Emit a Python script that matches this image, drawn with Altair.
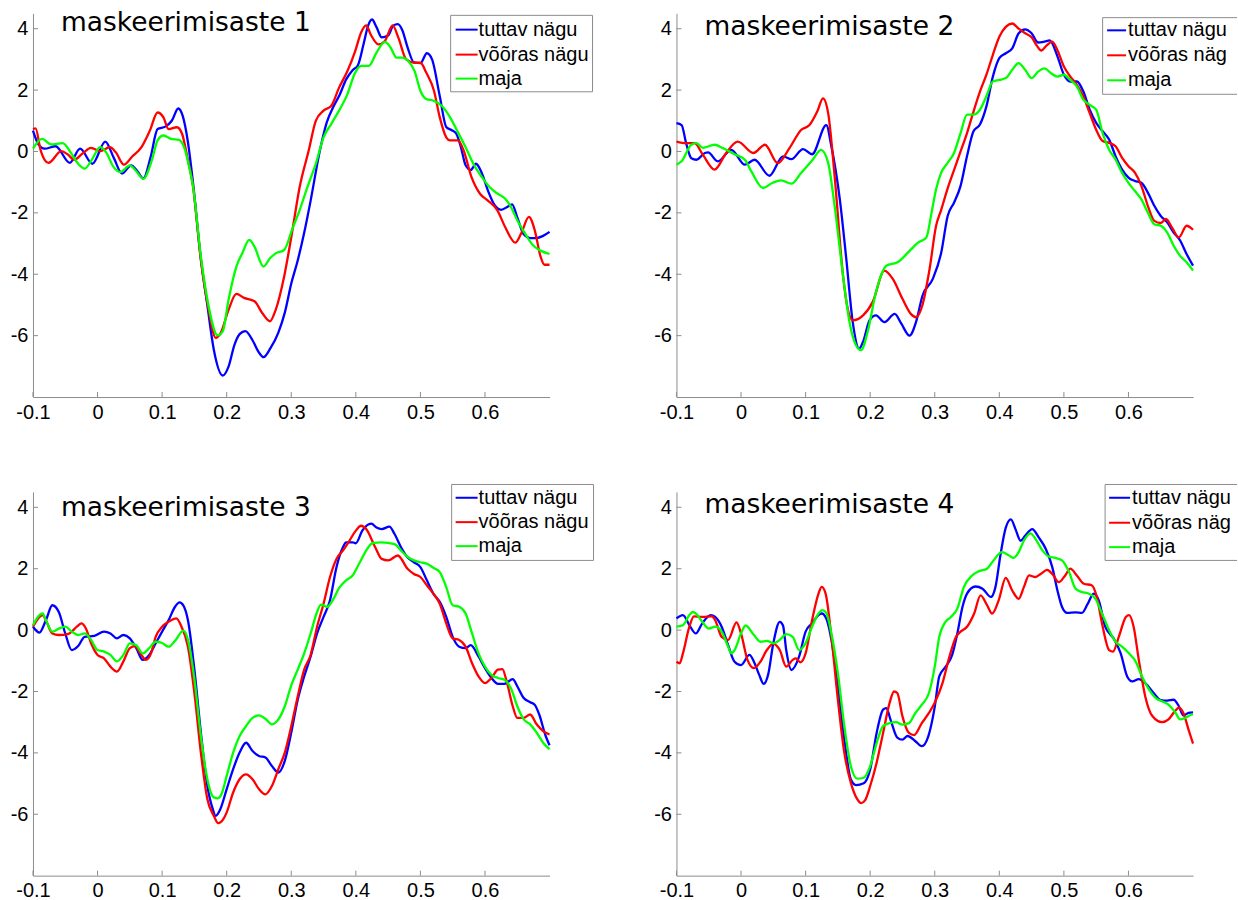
import altair as alt
import pandas as pd

# ---- axes -------------------------------------------------------------
X_DOMAIN = [-0.1, 0.7]
Y_DOMAIN = [-8, 4.5]
X_TICKS = [-0.1, 0, 0.1, 0.2, 0.3, 0.4, 0.5, 0.6]
Y_TICKS = [-6, -4, -2, 0, 2, 4]

SERIES = ["tuttav nägu", "võõras nägu", "maja"]
COLORS = ["#0000ff", "#ff0000", "#00ff00"]
TITLES = ["maskeerimisaste 1", "maskeerimisaste 2",
          "maskeerimisaste 3", "maskeerimisaste 4"]

# ---- waveforms: (time s, amplitude) ------------------------------------
P1_TUTTAV = [(-0.100, 0.68), (-0.092, 0.25), (-0.082, 0.09), (-0.065, 0.17), (-0.043, -0.37),
             (-0.027, 0.09), (-0.008, -0.40), (0.012, 0.32), (0.025, -0.20), (0.038, -0.72),
             (0.052, -0.45), (0.062, -0.65), (0.071, -0.88), (0.082, -0.20), (0.093, 0.73),
             (0.105, 0.81), (0.115, 1.00), (0.125, 1.40), (0.132, 1.15), (0.140, 0.30),
             (0.148, -1.05), (0.160, -3.50), (0.170, -5.00), (0.180, -6.45), (0.194, -7.30),
             (0.203, -7.00), (0.212, -6.30), (0.220, -5.95), (0.229, -5.85), (0.240, -6.15),
             (0.250, -6.55), (0.257, -6.70), (0.268, -6.40), (0.280, -5.90), (0.290, -5.25),
             (0.300, -4.30), (0.310, -3.55), (0.320, -2.65), (0.330, -1.60), (0.344, 0.00),
             (0.355, 0.95), (0.365, 1.45), (0.375, 1.85), (0.385, 2.35), (0.395, 2.65),
             (0.403, 2.80), (0.412, 3.50), (0.419, 4.10), (0.425, 4.30), (0.432, 4.05),
             (0.440, 3.72), (0.450, 3.78), (0.458, 4.10), (0.465, 4.15), (0.472, 3.95),
             (0.480, 3.40), (0.490, 2.90), (0.500, 2.88), (0.510, 3.20), (0.518, 3.00),
             (0.530, 1.80), (0.540, 0.80), (0.548, 0.70), (0.555, 0.60), (0.562, 0.20),
             (0.570, -0.45), (0.578, -0.60), (0.586, -0.40), (0.595, -0.70), (0.605, -1.30),
             (0.615, -1.75), (0.625, -1.90), (0.635, -1.80), (0.642, -1.72), (0.650, -2.15),
             (0.660, -2.70), (0.670, -2.82), (0.680, -2.82), (0.690, -2.75), (0.700, -2.62)]
P1_VOORAS = [(-0.100, 0.73), (-0.096, 0.75), (-0.088, 0.03), (-0.076, -0.37), (-0.056, 0.01),
             (-0.046, -0.10), (-0.036, -0.27), (-0.024, -0.08), (-0.010, 0.12), (0.004, 0.01),
             (0.019, 0.14), (0.028, -0.02), (0.041, -0.43), (0.053, -0.18), (0.068, 0.14),
             (0.081, 0.68), (0.093, 1.27), (0.102, 1.11), (0.110, 0.73), (0.123, 0.79),
             (0.131, 0.57), (0.139, -0.18), (0.148, -1.16), (0.160, -3.53), (0.172, -5.15),
             (0.183, -6.07), (0.191, -5.90), (0.203, -5.15), (0.215, -4.64), (0.227, -4.77),
             (0.243, -4.88), (0.255, -5.26), (0.267, -5.53), (0.276, -5.15), (0.289, -4.07),
             (0.301, -2.67), (0.313, -1.16), (0.327, 0.03), (0.338, 1.00), (0.350, 1.33),
             (0.362, 1.49), (0.374, 2.08), (0.387, 2.62), (0.399, 3.27), (0.408, 3.87),
             (0.416, 4.11), (0.423, 3.81), (0.435, 3.49), (0.445, 3.60), (0.457, 4.11),
             (0.466, 3.70), (0.478, 3.00), (0.491, 2.89), (0.500, 2.89), (0.509, 2.57),
             (0.521, 1.98), (0.530, 1.11), (0.540, 0.46), (0.546, 0.36), (0.558, 0.36),
             (0.567, 0.03), (0.579, -0.83), (0.592, -1.37), (0.604, -1.59), (0.619, -1.91),
             (0.631, -2.45), (0.647, -2.97), (0.656, -2.67), (0.668, -2.13), (0.677, -2.56),
             (0.686, -3.42), (0.692, -3.69), (0.700, -3.69)]
P1_MAJA = [(-0.100, 0.09), (-0.086, 0.41), (-0.072, 0.23), (-0.054, 0.27), (-0.042, -0.02),
           (-0.030, -0.40), (-0.020, -0.56), (-0.008, -0.24), (0.004, 0.14), (0.013, -0.02),
           (0.025, -0.51), (0.035, -0.67), (0.050, -0.45), (0.059, -0.62), (0.071, -0.89),
           (0.084, -0.29), (0.093, 0.36), (0.102, 0.52), (0.114, 0.41), (0.126, 0.38),
           (0.134, 0.14), (0.142, -0.51), (0.148, -1.16), (0.160, -3.42), (0.172, -5.04),
           (0.186, -5.99), (0.194, -5.85), (0.203, -4.82), (0.215, -3.75), (0.224, -3.32),
           (0.235, -2.88), (0.243, -3.10), (0.257, -3.75), (0.267, -3.48), (0.276, -3.32),
           (0.289, -3.21), (0.301, -2.56), (0.313, -1.91), (0.325, -1.16), (0.338, -0.40),
           (0.350, 0.46), (0.362, 0.90), (0.374, 1.33), (0.387, 1.87), (0.399, 2.57),
           (0.408, 2.79), (0.420, 2.79), (0.432, 3.22), (0.445, 3.57), (0.454, 3.38),
           (0.463, 3.06), (0.472, 3.06), (0.481, 2.95), (0.491, 2.62), (0.500, 1.98),
           (0.509, 1.71), (0.521, 1.65), (0.533, 1.49), (0.546, 1.11), (0.558, 0.63),
           (0.570, 0.14), (0.582, -0.40), (0.595, -0.83), (0.607, -1.16), (0.619, -1.37),
           (0.631, -1.53), (0.640, -1.80), (0.650, -2.24), (0.662, -2.67), (0.674, -3.05),
           (0.686, -3.23), (0.700, -3.34)]

P2_TUTTAV = [(-0.100, 0.92), (-0.092, 0.86), (-0.085, 0.27), (-0.077, -0.22), (-0.069, -0.27),
             (-0.056, -0.05), (-0.051, -0.03), (-0.036, -0.32), (-0.015, 0.05), (0.006, -0.43),
             (0.021, -0.27), (0.044, -0.79), (0.065, -0.16), (0.078, -0.25), (0.096, 0.08),
             (0.110, -0.09), (0.132, 0.86), (0.140, 0.16), (0.153, -1.56), (0.163, -3.50),
             (0.173, -5.56), (0.183, -6.42), (0.189, -6.20), (0.199, -5.50), (0.209, -5.34),
             (0.222, -5.56), (0.238, -5.29), (0.248, -5.60), (0.261, -6.00), (0.271, -5.56),
             (0.281, -4.70), (0.297, -4.15), (0.310, -3.30), (0.320, -2.10), (0.330, -1.66),
             (0.340, -1.12), (0.350, -0.15), (0.360, 0.66), (0.370, 0.88), (0.380, 1.47),
             (0.390, 2.44), (0.400, 3.04), (0.410, 3.20), (0.420, 3.36), (0.430, 3.85),
             (0.440, 3.98), (0.450, 3.85), (0.460, 3.55), (0.470, 3.58), (0.478, 3.62),
             (0.490, 3.10), (0.500, 2.50), (0.510, 2.28), (0.520, 2.28), (0.530, 1.96),
             (0.540, 1.36), (0.550, 0.93), (0.560, 0.66), (0.570, 0.39), (0.580, -0.15),
             (0.590, -0.58), (0.600, -0.85), (0.610, -0.96), (0.620, -1.02), (0.630, -1.34),
             (0.640, -1.77), (0.650, -2.10), (0.660, -2.31), (0.670, -2.64), (0.680, -2.90),
             (0.690, -3.34), (0.700, -3.72)]
P2_VOORAS = [(-0.100, 0.32), (-0.085, 0.27), (-0.072, 0.27), (-0.059, -0.11), (-0.041, -0.59),
             (-0.023, -0.05), (-0.005, 0.32), (0.019, -0.05), (0.037, 0.22), (0.057, -0.38),
             (0.075, 0.11), (0.093, 0.70), (0.106, 0.86), (0.118, 1.30), (0.127, 1.73),
             (0.135, 1.24), (0.145, -0.81), (0.158, -4.05), (0.165, -5.10), (0.173, -5.50),
             (0.189, -5.34), (0.204, -4.90), (0.222, -3.88), (0.235, -4.15), (0.250, -4.80),
             (0.263, -5.29), (0.271, -5.40), (0.281, -5.00), (0.292, -3.83), (0.302, -2.43),
             (0.310, -1.90), (0.320, -1.20), (0.330, -0.60), (0.340, 0.00), (0.350, 0.60),
             (0.360, 1.30), (0.370, 1.95), (0.380, 2.50), (0.390, 3.15), (0.400, 3.74),
             (0.410, 4.06), (0.420, 4.17), (0.430, 4.00), (0.440, 3.85), (0.450, 3.72),
             (0.458, 3.45), (0.465, 3.29), (0.473, 3.45), (0.482, 3.58), (0.490, 3.30),
             (0.500, 2.77), (0.510, 2.44), (0.520, 2.17), (0.530, 1.80), (0.540, 1.25),
             (0.550, 0.71), (0.560, 0.34), (0.570, 0.28), (0.580, 0.17), (0.590, -0.20),
             (0.600, -0.48), (0.610, -0.69), (0.620, -1.12), (0.630, -1.77), (0.640, -2.26),
             (0.650, -2.33), (0.658, -2.20), (0.668, -2.50), (0.678, -2.80), (0.690, -2.42),
             (0.700, -2.55)]
P2_MAJA = [(-0.100, -0.43), (-0.092, -0.32), (-0.077, 0.22), (-0.069, 0.27), (-0.059, 0.12),
           (-0.041, 0.22), (-0.028, 0.11), (-0.010, -0.09), (0.006, -0.27), (0.016, -0.65),
           (0.034, -1.19), (0.049, -1.02), (0.062, -0.94), (0.078, -1.05), (0.093, -0.70),
           (0.111, -0.27), (0.124, 0.05), (0.135, -0.38), (0.145, -1.78), (0.158, -4.05),
           (0.168, -5.56), (0.178, -6.31), (0.186, -6.47), (0.196, -5.88), (0.209, -4.58),
           (0.225, -3.72), (0.243, -3.60), (0.261, -3.24), (0.274, -2.97), (0.287, -2.80),
           (0.295, -2.00), (0.302, -1.24), (0.310, -0.69), (0.320, -0.37), (0.330, -0.04),
           (0.340, 0.60), (0.350, 1.20), (0.360, 1.20), (0.370, 1.36), (0.380, 1.80),
           (0.390, 2.28), (0.400, 2.33), (0.410, 2.39), (0.420, 2.66), (0.430, 2.88),
           (0.440, 2.66), (0.450, 2.39), (0.460, 2.60), (0.470, 2.71), (0.480, 2.55),
           (0.490, 2.44), (0.500, 2.50), (0.510, 2.33), (0.520, 2.12), (0.530, 1.69),
           (0.540, 1.52), (0.550, 1.36), (0.560, 0.60), (0.570, 0.06), (0.580, -0.26),
           (0.590, -0.69), (0.600, -1.02), (0.610, -1.29), (0.620, -1.56), (0.630, -1.99),
           (0.640, -2.37), (0.650, -2.42), (0.660, -2.64), (0.670, -3.07), (0.680, -3.40),
           (0.690, -3.61), (0.700, -3.88)]

P3_TUTTAV = [(-0.100, 0.11), (-0.090, -0.08), (-0.080, 0.32), (-0.070, 0.81), (-0.060, 0.59),
             (-0.050, -0.11), (-0.040, -0.65), (-0.030, -0.52), (-0.020, -0.22), (-0.005, -0.19),
             (0.010, -0.05), (0.020, -0.11), (0.030, -0.27), (0.040, -0.16), (0.050, -0.27),
             (0.060, -0.59), (0.070, -0.97), (0.080, -0.81), (0.090, -0.43), (0.100, -0.05),
             (0.110, 0.32), (0.120, 0.76), (0.127, 0.90), (0.133, 0.80), (0.140, 0.32),
             (0.150, -1.29), (0.160, -3.34), (0.170, -5.07), (0.178, -5.80), (0.183, -6.05),
             (0.190, -5.84), (0.200, -5.18), (0.210, -4.53), (0.220, -3.99), (0.230, -3.67),
             (0.240, -3.94), (0.250, -4.10), (0.260, -4.15), (0.270, -4.43), (0.280, -4.64),
             (0.290, -4.26), (0.300, -3.34), (0.310, -2.27), (0.320, -1.51), (0.330, -0.86),
             (0.340, -0.11), (0.350, 0.43), (0.360, 0.97), (0.370, 2.05), (0.380, 2.70),
             (0.385, 2.86), (0.395, 2.86), (0.400, 2.83), (0.410, 3.24), (0.420, 3.45),
             (0.424, 3.47), (0.432, 3.34), (0.440, 3.29), (0.452, 3.37), (0.460, 3.13),
             (0.470, 2.70), (0.480, 2.37), (0.490, 2.21), (0.500, 2.05), (0.510, 1.62),
             (0.520, 1.19), (0.530, 0.92), (0.540, 0.43), (0.550, -0.22), (0.560, -0.54),
             (0.570, -0.59), (0.578, -0.49), (0.590, -0.86), (0.600, -1.24), (0.610, -1.56),
             (0.620, -1.75), (0.630, -1.75), (0.643, -1.60), (0.650, -1.83), (0.660, -2.21),
             (0.670, -2.35), (0.677, -2.43), (0.684, -2.75), (0.694, -3.45), (0.700, -3.75)]
P3_VOORAS = [(-0.100, 0.11), (-0.085, 0.49), (-0.080, 0.32), (-0.070, -0.11), (-0.060, -0.16),
             (-0.045, -0.12), (-0.032, 0.11), (-0.025, 0.22), (-0.018, 0.05), (-0.010, -0.43),
             (0.000, -0.81), (0.010, -0.92), (0.020, -1.19), (0.030, -1.35), (0.040, -1.02),
             (0.050, -0.59), (0.058, -0.52), (0.066, -0.75), (0.075, -0.97), (0.083, -0.75),
             (0.090, -0.22), (0.100, 0.11), (0.110, 0.27), (0.122, 0.38), (0.130, 0.11),
             (0.140, -0.54), (0.150, -2.05), (0.160, -3.99), (0.170, -5.50), (0.180, -6.05),
             (0.187, -6.29), (0.195, -6.15), (0.200, -5.94), (0.210, -5.29), (0.220, -4.86),
             (0.230, -4.70), (0.240, -4.86), (0.250, -5.18), (0.260, -5.35), (0.270, -5.08),
             (0.280, -4.53), (0.290, -3.99), (0.300, -3.13), (0.310, -2.16), (0.320, -1.29),
             (0.330, -0.81), (0.340, 0.11), (0.350, 0.86), (0.360, 1.73), (0.370, 2.32),
             (0.380, 2.59), (0.390, 2.91), (0.400, 3.24), (0.408, 3.40), (0.416, 3.29),
             (0.430, 2.70), (0.440, 2.32), (0.450, 2.27), (0.465, 2.43), (0.480, 2.00),
             (0.490, 1.83), (0.500, 1.73), (0.510, 1.46), (0.520, 1.19), (0.530, 0.86),
             (0.540, 0.22), (0.550, -0.27), (0.560, -0.32), (0.570, -0.54), (0.580, -1.08),
             (0.590, -1.51), (0.600, -1.73), (0.610, -1.56), (0.620, -1.29), (0.627, -1.27),
             (0.633, -1.62), (0.643, -2.48), (0.650, -2.86), (0.660, -2.86), (0.670, -2.75),
             (0.680, -3.07), (0.690, -3.29), (0.700, -3.40)]
P3_MAJA = [(-0.100, 0.16), (-0.090, 0.49), (-0.085, 0.54), (-0.080, 0.32), (-0.070, -0.05),
           (-0.060, 0.05), (-0.050, 0.11), (-0.040, -0.05), (-0.030, -0.16), (-0.020, -0.11),
           (-0.010, -0.32), (0.000, -0.65), (0.010, -0.70), (0.020, -0.81), (0.030, -1.02),
           (0.040, -0.81), (0.050, -0.43), (0.060, -0.49), (0.070, -0.76), (0.080, -0.59),
           (0.090, -0.38), (0.100, -0.42), (0.110, -0.54), (0.120, -0.35), (0.133, -0.02),
           (0.141, -0.40), (0.150, -1.60), (0.160, -3.45), (0.170, -4.85), (0.180, -5.45),
           (0.186, -5.48), (0.192, -5.34), (0.200, -4.75), (0.210, -3.99), (0.220, -3.45),
           (0.230, -3.13), (0.240, -2.86), (0.250, -2.78), (0.260, -2.89), (0.270, -3.07),
           (0.280, -2.91), (0.290, -2.48), (0.300, -1.80), (0.310, -1.29), (0.320, -0.76),
           (0.330, -0.11), (0.340, 0.59), (0.346, 0.83), (0.356, 0.76), (0.364, 0.97),
           (0.375, 1.40), (0.385, 1.62), (0.395, 1.78), (0.405, 2.16), (0.416, 2.59),
           (0.426, 2.83), (0.440, 2.86), (0.460, 2.80), (0.470, 2.59), (0.480, 2.39),
           (0.490, 2.27), (0.500, 2.21), (0.510, 2.16), (0.520, 2.03), (0.530, 1.89),
           (0.540, 1.40), (0.550, 0.81), (0.560, 0.76), (0.570, 0.54), (0.580, -0.11),
           (0.590, -0.76), (0.600, -1.19), (0.610, -1.46), (0.620, -1.56), (0.630, -1.62),
           (0.640, -1.89), (0.650, -2.48), (0.660, -2.91), (0.670, -3.07), (0.680, -3.34),
           (0.690, -3.67), (0.700, -3.88)]

P4_TUTTAV = [(-0.100, 0.38), (-0.090, 0.49), (-0.080, 0.16), (-0.070, -0.11), (-0.060, 0.22),
             (-0.047, 0.49), (-0.040, 0.43), (-0.030, 0.11), (-0.020, -0.49), (-0.010, -1.03),
             (0.000, -1.14), (0.013, -0.81), (0.020, -1.03), (0.028, -1.45), (0.035, -1.75),
             (0.042, -1.45), (0.050, -0.43), (0.060, 0.27), (0.065, 0.15), (0.070, -0.65),
             (0.078, -1.30), (0.090, -0.86), (0.100, -0.05), (0.110, 0.22), (0.120, 0.49),
             (0.125, 0.54), (0.132, 0.38), (0.140, -0.32), (0.150, -1.84), (0.160, -3.57),
             (0.170, -4.86), (0.178, -5.05), (0.190, -4.99), (0.200, -4.54), (0.210, -3.35),
             (0.220, -2.59), (0.225, -2.54), (0.232, -2.95), (0.242, -3.50), (0.250, -3.57),
             (0.258, -3.45), (0.270, -3.62), (0.280, -3.78), (0.290, -3.46), (0.300, -2.50),
             (0.307, -1.51), (0.317, -1.19), (0.327, -0.81), (0.335, -0.11), (0.343, 0.76),
             (0.350, 1.19), (0.363, 1.42), (0.374, 1.35), (0.387, 1.08), (0.394, 1.40),
             (0.402, 2.48), (0.410, 3.34), (0.418, 3.61), (0.425, 3.29), (0.433, 2.91),
             (0.440, 3.07), (0.451, 3.29), (0.461, 3.02), (0.472, 2.64), (0.482, 2.05),
             (0.490, 1.29), (0.497, 0.76), (0.505, 0.56), (0.518, 0.58), (0.528, 0.56),
             (0.537, 0.86), (0.546, 1.19), (0.554, 0.97), (0.564, 0.11), (0.577, -0.27),
             (0.588, -0.76), (0.598, -1.51), (0.606, -1.67), (0.616, -1.60), (0.626, -1.73),
             (0.639, -2.05), (0.649, -2.27), (0.660, -2.30), (0.670, -2.27), (0.678, -2.48),
             (0.685, -2.78), (0.693, -2.70), (0.700, -2.68)]
P4_VOORAS = [(-0.100, -1.03), (-0.095, -1.08), (-0.090, -0.76), (-0.080, 0.11), (-0.073, 0.45),
             (-0.060, 0.43), (-0.045, 0.45), (-0.040, 0.32), (-0.030, -0.22), (-0.020, -0.32),
             (-0.007, 0.25), (0.000, -0.11), (0.010, -0.97), (0.020, -1.24), (0.030, -1.03),
             (0.040, -0.65), (0.050, -0.45), (0.060, -0.65), (0.070, -1.19), (0.080, -0.97),
             (0.085, -0.92), (0.092, -1.05), (0.100, -0.76), (0.110, 0.32), (0.120, 1.19),
             (0.125, 1.41), (0.131, 1.19), (0.140, -0.22), (0.150, -2.27), (0.160, -4.00),
             (0.170, -4.97), (0.180, -5.51), (0.186, -5.64), (0.192, -5.55), (0.200, -5.08),
             (0.210, -4.32), (0.220, -3.35), (0.230, -2.38), (0.237, -2.00), (0.242, -2.05),
             (0.250, -2.81), (0.260, -3.35), (0.268, -3.42), (0.280, -3.03), (0.291, -2.70),
             (0.300, -2.37), (0.312, -1.73), (0.322, -0.92), (0.333, -0.22), (0.340, -0.05),
             (0.350, 0.11), (0.361, 0.54), (0.371, 1.13), (0.381, 0.81), (0.389, 0.54),
             (0.399, 0.97), (0.410, 1.70), (0.420, 1.29), (0.430, 1.02), (0.438, 1.40),
             (0.446, 1.78), (0.456, 1.73), (0.464, 1.83), (0.474, 1.96), (0.482, 1.83),
             (0.492, 1.56), (0.502, 1.78), (0.510, 2.00), (0.520, 1.78), (0.531, 1.51),
             (0.543, 1.46), (0.551, 1.08), (0.559, 0.22), (0.570, -0.65), (0.576, -0.70),
             (0.585, -0.22), (0.596, 0.43), (0.601, 0.49), (0.608, 0.11), (0.616, -0.97),
             (0.626, -2.16), (0.637, -2.80), (0.652, -3.00), (0.662, -2.91), (0.672, -2.64),
             (0.678, -2.53), (0.685, -2.70), (0.693, -3.24), (0.700, -3.70)]
P4_MAJA = [(-0.100, 0.11), (-0.090, 0.16), (-0.080, 0.49), (-0.075, 0.59), (-0.070, 0.54),
           (-0.060, 0.27), (-0.050, 0.05), (-0.040, 0.11), (-0.030, -0.05), (-0.020, -0.54),
           (-0.015, -0.76), (-0.010, -0.65), (0.000, -0.11), (0.007, 0.15), (0.020, -0.16),
           (0.030, -0.38), (0.040, -0.35), (0.050, -0.43), (0.060, -0.32), (0.070, -0.13),
           (0.080, -0.22), (0.090, -0.65), (0.100, -0.43), (0.110, 0.11), (0.120, 0.54),
           (0.126, 0.65), (0.132, 0.56), (0.140, -0.11), (0.150, -1.41), (0.160, -3.13),
           (0.170, -4.43), (0.180, -4.84), (0.190, -4.81), (0.200, -4.43), (0.210, -3.68),
           (0.220, -3.13), (0.230, -3.03), (0.240, -3.00), (0.250, -3.08), (0.260, -3.03),
           (0.270, -2.70), (0.280, -2.43), (0.291, -2.05), (0.300, -1.19), (0.307, -0.22),
           (0.315, 0.22), (0.325, 0.43), (0.335, 0.70), (0.345, 1.40), (0.358, 1.78),
           (0.369, 1.92), (0.381, 2.00), (0.391, 2.27), (0.404, 2.54), (0.415, 2.43),
           (0.422, 2.35), (0.430, 2.54), (0.438, 2.91), (0.448, 3.15), (0.456, 2.97),
           (0.467, 2.59), (0.477, 2.39), (0.487, 2.35), (0.497, 2.27), (0.508, 1.89),
           (0.518, 1.35), (0.528, 1.24), (0.538, 1.19), (0.549, 1.02), (0.559, 0.54),
           (0.570, 0.00), (0.580, -0.38), (0.590, -0.54), (0.601, -0.76), (0.611, -1.02),
           (0.621, -1.51), (0.632, -1.94), (0.642, -2.21), (0.652, -2.32), (0.662, -2.43),
           (0.673, -2.70), (0.680, -2.91), (0.688, -2.86), (0.698, -2.75), (0.700, -2.74)]

PANEL_DATA = [
    [P1_TUTTAV, P1_VOORAS, P1_MAJA],
    [P2_TUTTAV, P2_VOORAS, P2_MAJA],
    [P3_TUTTAV, P3_VOORAS, P3_MAJA],
    [P4_TUTTAV, P4_VOORAS, P4_MAJA],
]

# ---- layout (pixels, relative to each plot area's top-left corner) -------
W, H = 517, 384
GRAY = "#8c8c8c"
TICK_LEN = 5
LABEL_FONT = "Liberation Sans"
RIGHT_EDGE = 561  # right border of the right-hand column

TITLE_POS = [(28, 18), (28, 22), (28, 24), (28, 21)]
LEGEND_GEOM = [
    dict(box=(418, 2, 560, 78.5), closed=True, line=(423, 445), text_x=446, rows=(16.3, 41.3, 65.3)),
    dict(box=(426.5, 4.3, RIGHT_EDGE, 81), closed=False, line=(431, 450), text_x=452, rows=(17, 42, 67)),
    dict(box=(419, -7.5, 561, 68.5), closed=True, line=(423, 445), text_x=446, rows=(5.8, 30.2, 54.2)),
    dict(box=(429, -7.5, RIGHT_EDGE, 68.5), closed=False, line=(433, 454), text_x=456, rows=(5.8, 30.8, 55.2)),
]

ONE = pd.DataFrame({"n": [0]})


def axis(values, pad):
    return alt.Axis(values=values, labelExpr="'' + datum.value", ticks=False, tickSize=0,
                    grid=False, domainColor=GRAY, domainWidth=1, labelColor="black",
                    labelFont=LABEL_FONT, labelFontSize=20, labelPadding=pad,
                    labelFlush=False, labelOverlap=False, labelBound=False)


def px_rule(x0, x1, y0, y1, color=GRAY, width=1):
    return alt.Chart(ONE).mark_rule(color=color, strokeWidth=width).encode(
        x=alt.value(x0), x2=alt.value(x1), y=alt.value(y0), y2=alt.value(y1))


def make_panel(i):
    x_enc = alt.X("t:Q", scale=alt.Scale(domain=X_DOMAIN, nice=False, zero=False),
                  axis=axis(X_TICKS, 5), title=None)
    y_enc = alt.Y("v:Q", scale=alt.Scale(domain=Y_DOMAIN, nice=False, zero=False),
                  axis=axis(Y_TICKS, 5), title=None)
    layers = []

    # inward tick marks
    layers.append(alt.Chart(pd.DataFrame({"t": X_TICKS})).mark_rule(color=GRAY, strokeWidth=1)
                  .encode(x=x_enc, y=alt.value(H), y2=alt.value(H - TICK_LEN)))
    layers.append(alt.Chart(pd.DataFrame({"v": Y_TICKS})).mark_rule(color=GRAY, strokeWidth=1)
                  .encode(y=y_enc, x=alt.value(0), x2=alt.value(TICK_LEN)))

    # waveforms, blue first and green on top
    for color, pts in zip(COLORS, PANEL_DATA[i]):
        df = pd.DataFrame(pts, columns=["t", "v"])
        layers.append(alt.Chart(df).mark_line(color=color, strokeWidth=2.3, interpolate="monotone")
                      .encode(x=x_enc, y=y_enc))

    # panel heading
    tx, ty = TITLE_POS[i]
    layers.append(alt.Chart(pd.DataFrame({"label": [TITLES[i]]}))
                  .mark_text(align="left", baseline="alphabetic", font="DejaVu Sans", fontSize=26.5, color="black")
                  .encode(x=alt.value(tx), y=alt.value(ty), text="label:N"))

    # legend box
    g = LEGEND_GEOM[i]
    bx0, by0, bx1, by1 = g["box"]
    layers.append(alt.Chart(ONE).mark_rect(fill="white").encode(
        x=alt.value(bx0), x2=alt.value(bx1), y=alt.value(by0), y2=alt.value(by1)))
    layers.append(px_rule(bx0, bx1, by0, by0))
    layers.append(px_rule(bx0, bx1, by1, by1))
    layers.append(px_rule(bx0, bx0, by0, by1))
    if g["closed"]:
        layers.append(px_rule(bx1, bx1, by0, by1))
    lx0, lx1 = g["line"]
    for name, color, ry in zip(SERIES, COLORS, g["rows"]):
        layers.append(px_rule(lx0, lx1, ry, ry, color=color, width=2))
        layers.append(alt.Chart(pd.DataFrame({"label": [name]}))
                      .mark_text(align="left", baseline="middle", font=LABEL_FONT, fontSize=20,
                                 color="black", limit=RIGHT_EDGE - g["text_x"], ellipsis="\u200b")
                      .encode(x=alt.value(g["text_x"]), y=alt.value(ry), text="label:N"))

    if i == 0:
        # white corner marker fixing the page origin
        layers.append(alt.Chart(ONE).mark_rect(fill="white").encode(
            x=alt.value(-33), x2=alt.value(-32), y=alt.value(-13), y2=alt.value(-12)))

    return alt.layer(*layers).properties(width=W, height=H)


chart = alt.concat(
    *[make_panel(i) for i in range(4)],
    columns=2,
    spacing={"row": 95, "column": 127},
    bounds="flush",
).properties(padding=0).configure_view(strokeWidth=0)

chart.save("out.html", embed_options={"renderer": "svg", "actions": False})
